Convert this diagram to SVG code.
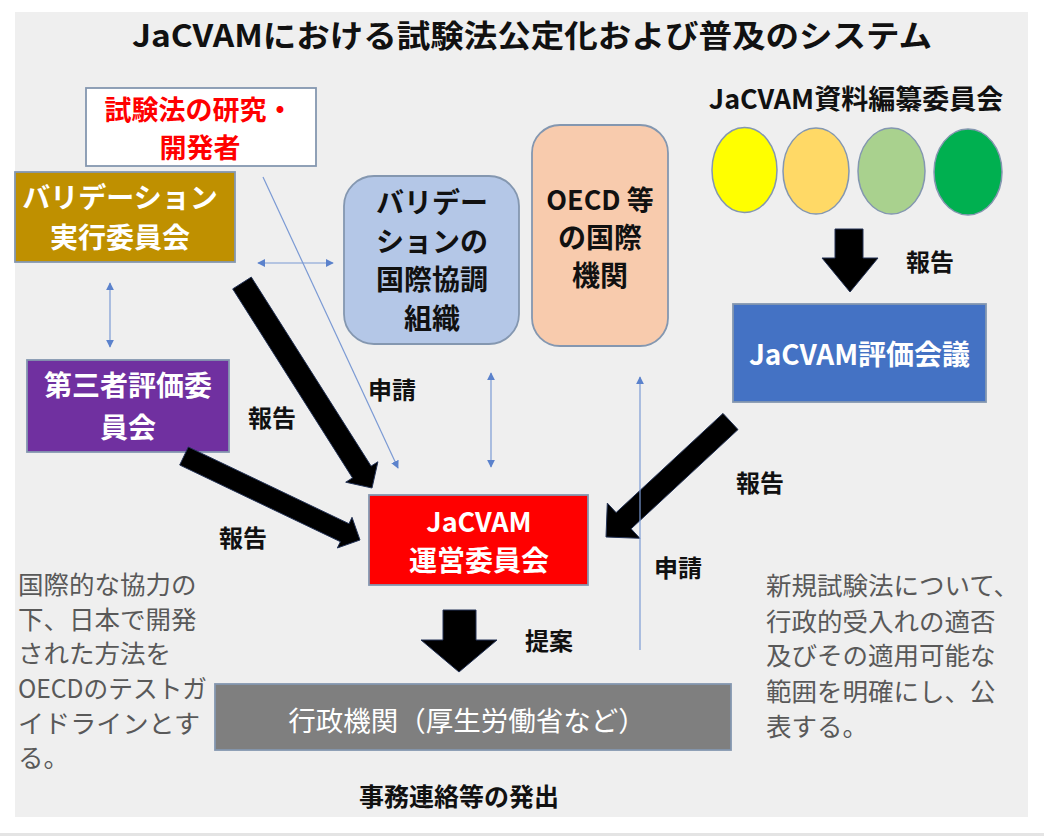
<svg xmlns="http://www.w3.org/2000/svg" width="1044" height="836" viewBox="0 0 1044 836">
<style>
text{font-family:"Noto Sans CJK JP","Noto Sans",sans-serif;}
.b{font-weight:700;}
.r{font-weight:400;}
.c{text-anchor:middle;}
.box{stroke:#8497b0;stroke-width:1.8;}
.thin{stroke:#7b9ad4;stroke-width:1.2;fill:none;}
.blk{fill:#000;stroke:#243356;stroke-width:1;}
.w{fill:#ffffff;}
.k{fill:#111111;}
.g{fill:#595959;}
</style>
<defs>
<marker id="ah" viewBox="0 0 10 10" refX="9" refY="5" markerWidth="8" markerHeight="8" markerUnits="userSpaceOnUse" orient="auto-start-reverse">
<path d="M0,0 L10,5 L0,10 z" fill="#5b82cc"/>
</marker>
</defs>
<rect x="0" y="0" width="1044" height="836" fill="#ffffff"/>
<rect x="15" y="12" width="1013" height="805" fill="#efefef"/>
<rect x="0" y="833" width="1044" height="3" fill="#e4e4e4"/>

<text x="532" y="47" class="b c k" font-size="31" textLength="800" lengthAdjust="spacingAndGlyphs">JaCVAMにおける試験法公定化および普及のシステム</text>

<g id="developer">
<rect x="86" y="88" width="230" height="78" fill="#ffffff" class="box"/>
<text x="199" y="120" class="b c" font-size="27" fill="#ff0000">試験法の研究・</text>
<text x="200" y="158" class="b c" font-size="27" fill="#ff0000">開発者</text>
</g>

<g id="validation-committee">
<rect x="15" y="172" width="220" height="90" fill="#bf9000" class="box"/>
<text x="120" y="208" class="b c w" font-size="28">バリデーション</text>
<text x="120" y="248" class="b c w" font-size="28">実行委員会</text>
</g>

<g id="third-party">
<rect x="27" y="360" width="202" height="92" fill="#7030a0" class="box"/>
<text x="128" y="396" class="b c w" font-size="28">第三者評価委</text>
<text x="128" y="438" class="b c w" font-size="28">員会</text>
</g>

<g id="intl-validation">
<rect x="344" y="176" width="175" height="168" rx="30" ry="30" fill="#b4c7e7" class="box"/>
<text x="432" y="213" class="b c k" font-size="28">バリデー</text>
<text x="432" y="252" class="b c k" font-size="28">ションの</text>
<text x="432" y="290" class="b c k" font-size="28">国際協調</text>
<text x="432" y="329" class="b c k" font-size="28">組織</text>
</g>

<g id="oecd">
<rect x="532" y="125" width="136" height="221" rx="28" ry="28" fill="#f8cbad" class="box"/>
<text x="600" y="210" class="b c k" font-size="27">OECD 等</text>
<text x="600" y="248" class="b c k" font-size="28">の国際</text>
<text x="600" y="286" class="b c k" font-size="28">機関</text>
</g>

<g id="editorial">
<text x="856" y="109" class="b c k" font-size="27">JaCVAM資料編纂委員会</text>
<ellipse cx="744.5" cy="170" rx="32.5" ry="42.5" fill="#ffff00" stroke="#8497b0" stroke-width="1.5"/>
<ellipse cx="816" cy="171" rx="33" ry="43" fill="#ffd966" stroke="#8497b0" stroke-width="1.5"/>
<ellipse cx="891.5" cy="171" rx="33.5" ry="43" fill="#a9d18e" stroke="#8497b0" stroke-width="1.5"/>
<ellipse cx="968" cy="172" rx="34" ry="43" fill="#00b050" stroke="#8497b0" stroke-width="1.5"/>
</g>

<g id="evaluation">
<rect x="733" y="304" width="253" height="98" fill="#4472c4" class="box"/>
<text x="859.5" y="365" class="b c w" font-size="28">JaCVAM評価会議</text>
</g>

<g id="steering">
<rect x="369" y="495" width="219" height="90" fill="#ff0000" class="box"/>
<text x="479" y="532" class="b c w" font-size="27">JaCVAM</text>
<text x="479" y="571" class="b c w" font-size="28">運営委員会</text>
</g>

<g id="ministry">
<rect x="215" y="684" width="516" height="66" fill="#7f7f7f" class="box"/>
<text x="467" y="731" class="r c w" font-size="27.5">行政機関（厚生労働省など）</text>
</g>

<g id="connectors">
<polygon class="blk" points="251.3,277.1 371.1,466.1 377.9,461.8 372,488 345.7,482.2 352.5,477.9 232.7,288.9"/>
<polygon class="blk" points="188.3,447 349,523.7 352,517.3 360,540 337.3,548 340.4,541.7 179.7,465"/>
<polygon class="blk" points="738,429.6 631.1,528.8 639.9,538.3 606,537 607.3,503.1 616.1,512.6 723,413.4"/>
<polygon class="blk" points="835,229 863,229 863,258 878,258 850,292 822,258 835,258"/>
<polygon class="blk" points="443,610 476,610 476,640 497,640 459,672 421,640 443,640"/>
<line class="thin" x1="263" y1="177" x2="398" y2="468" marker-end="url(#ah)"/>
<line class="thin" x1="258" y1="263" x2="333" y2="263" marker-start="url(#ah)" marker-end="url(#ah)"/>
<line class="thin" x1="110" y1="283" x2="110" y2="347" marker-start="url(#ah)" marker-end="url(#ah)"/>
<line class="thin" x1="491" y1="373" x2="491" y2="467" marker-start="url(#ah)" marker-end="url(#ah)"/>
<line class="thin" x1="640" y1="650" x2="640" y2="377" marker-end="url(#ah)"/>
</g>

<g id="labels">
<text x="930" y="271" class="b c k" font-size="24">報告</text>
<text x="272" y="427" class="b c k" font-size="24">報告</text>
<text x="243" y="547" class="b c k" font-size="24">報告</text>
<text x="760" y="492" class="b c k" font-size="24">報告</text>
<text x="392" y="399" class="b c k" font-size="24">申請</text>
<text x="678" y="577" class="b c k" font-size="24">申請</text>
<text x="549" y="650" class="b c k" font-size="24">提案</text>
<text x="459" y="806" class="b c k" font-size="25">事務連絡等の発出</text>
</g>

<g id="note-left" class="r g" font-size="25.5">
<text x="18" y="594">国際的な協力の</text>
<text x="18" y="629">下、日本で開発</text>
<text x="18" y="663">された方法を</text>
<text x="18" y="698" textLength="189" lengthAdjust="spacingAndGlyphs">OECDのテストガ</text>
<text x="18" y="733" textLength="182" lengthAdjust="spacingAndGlyphs">イドラインとす</text>
<text x="18" y="767">る。</text>
</g>

<g id="note-right" class="r g" font-size="25.5">
<text x="766" y="595">新規試験法について、</text>
<text x="766" y="631">行政的受入れの適否</text>
<text x="766" y="665">及びその適用可能な</text>
<text x="766" y="701">範囲を明確にし、公</text>
<text x="766" y="736">表する。</text>
</g>
</svg>
